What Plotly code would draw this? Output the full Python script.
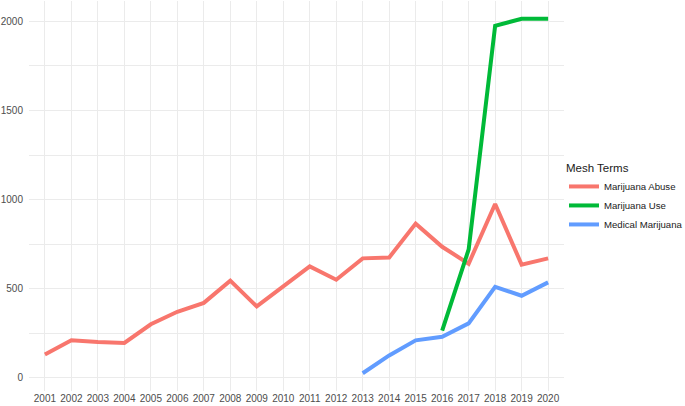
import plotly.graph_objects as go

years = list(range(2001, 2021))
abuse = [130, 210, 200, 195, 300, 370, 420, 545, 400, 510, 625, 550, 670, 675, 865, 735, 640, 975, 635, 670]
use_years = [2016, 2017, 2018, 2019, 2020]
use = [265, 720, 1975, 2015, 2015]
med_years = [2013, 2014, 2015, 2016, 2017, 2018, 2019, 2020]
medical = [25, 125, 210, 230, 305, 510, 460, 535]

colors = ["#F8766D", "#00BA38", "#619CFF"]

fig = go.Figure()
fig.add_trace(go.Scatter(x=years, y=abuse, mode="lines", name="Marijuana Abuse",
                         line=dict(color=colors[0], width=4)))
fig.add_trace(go.Scatter(x=use_years, y=use, mode="lines", name="Marijuana Use",
                         line=dict(color=colors[1], width=4)))
fig.add_trace(go.Scatter(x=med_years, y=medical, mode="lines", name="Medical Marijuana",
                         line=dict(color=colors[2], width=4)))

grid = "#EBEBEB"
fig.update_layout(
    width=685, height=406,
    margin=dict(l=29, r=121, t=1, b=15, autoexpand=False),
    paper_bgcolor="white", plot_bgcolor="white",
    font=dict(family="Liberation Sans, Arial", size=10, color="#4D4D4D"),
    showlegend=True,
    legend=dict(
        title=dict(text="Mesh Terms", font=dict(size=11.5, color="#1a1a1a")),
        font=dict(size=9.6, color="#1a1a1a"),
        x=1.0, y=0.60, xanchor="left", yanchor="top",
        itemwidth=30, tracegroupgap=0,
        bgcolor="rgba(0,0,0,0)",
    ),
    xaxis=dict(
        range=[2000.4, 2020.6],
        tickmode="array", tickvals=years, ticktext=[str(y) for y in years],
        tickangle=0, automargin=False,
        showgrid=True, gridcolor=grid, gridwidth=1,
        zeroline=False, showline=False, ticks="",
        tickfont=dict(size=10, color="#4D4D4D"),
    ),
    yaxis=dict(
        range=[-74.5, 2114.5],
        tickvals=[0, 500, 1000, 1500, 2000],
        automargin=False, ticklabelstandoff=5,
        showgrid=True, gridcolor=grid, gridwidth=1,
        minor=dict(tickvals=[250, 750, 1250, 1750], showgrid=True, gridcolor=grid, gridwidth=0.6),
        zeroline=False, showline=False, ticks="",
        tickfont=dict(size=10, color="#4D4D4D"),
    ),
)

fig.write_html("out.html", config={"displayModeBar": False},
               post_script="document.body.style.margin='0';document.body.style.overflow='hidden';")
